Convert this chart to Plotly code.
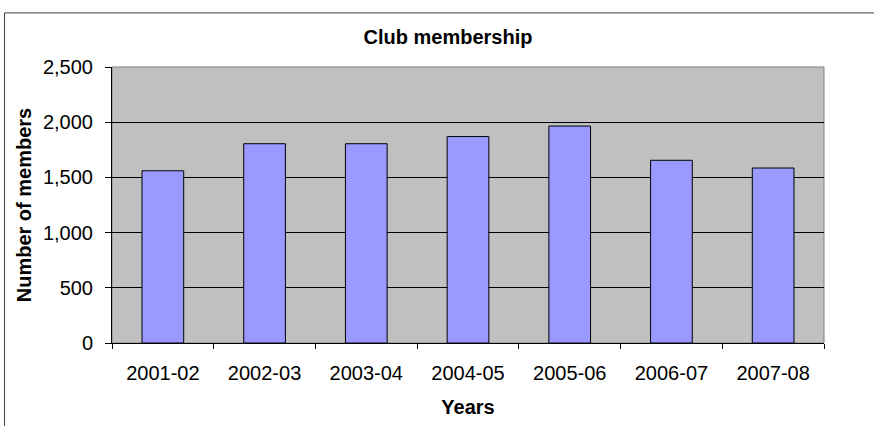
import plotly.graph_objects as go

years = ["2001-02", "2002-03", "2003-04", "2004-05", "2005-06", "2006-07", "2007-08"]
members = [1560, 1805, 1805, 1870, 1965, 1655, 1585]
y_ticks = [0, 500, 1000, 1500, 2000, 2500]

W, H = 874, 426
L, R, T, B = 112, 50, 67, 81
pw = W - L - R
ph = H - T - B

fig = go.Figure()
fig.add_trace(go.Bar(
    x=years, y=members,
    marker=dict(color="#9999FF", line=dict(color="#000000", width=1)),
    width=0.41,
))

font = "Liberation Sans, Arial, sans-serif"
fig.update_layout(
    width=W, height=H,
    margin=dict(l=L, r=R, t=T, b=B),
    paper_bgcolor="white",
    plot_bgcolor="#C0C0C0",
    showlegend=False,
    font=dict(family=font, size=20, color="black"),
    title=dict(text="<b>Club membership</b>", x=448 / W, xanchor="center",
               y=1 - 37 / H, yanchor="middle", font=dict(size=20, family=font)),
)
fig.update_xaxes(
    type="category",
    showline=True, linecolor="black", linewidth=1,
    ticks="outside", ticklen=5, tickcolor="black", tickson="boundaries",
    showgrid=False,
    tickfont=dict(size=20),
    ticklabelstandoff=12,
    title=dict(text="<b>Years</b>", font=dict(size=20), standoff=16),
)
fig.update_yaxes(
    range=[0, 2500], tickvals=y_ticks, tickformat=",",
    showline=True, linecolor="black", linewidth=1,
    ticks="outside", ticklen=6, tickcolor="black",
    showgrid=True, gridcolor="black", gridwidth=1,
    zeroline=False,
    tickfont=dict(size=20),
    ticklabelstandoff=8,
    title=dict(text="<b>Number of members</b>", font=dict(size=20), standoff=5),
)
# plot area gray border (top/right)
fig.add_shape(type="rect", xref="paper", yref="paper", x0=0, x1=1, y0=0, y1=1,
              line=dict(color="#808080", width=1), layer="below")
# outer chart border (cropped on right and bottom)
fig.add_shape(type="rect", xref="paper", yref="paper",
              x0=(4.5 - L) / pw, x1=(W + 10 - L) / pw,
              y0=-(H + 10 - (T + ph)) / ph, y1=(T + ph - 12.5) / ph,
              line=dict(color="#404040", width=1), layer="above")

fig.write_html("out.html", config={"displayModeBar": False},
               post_script="document.body.style.margin='0';")
